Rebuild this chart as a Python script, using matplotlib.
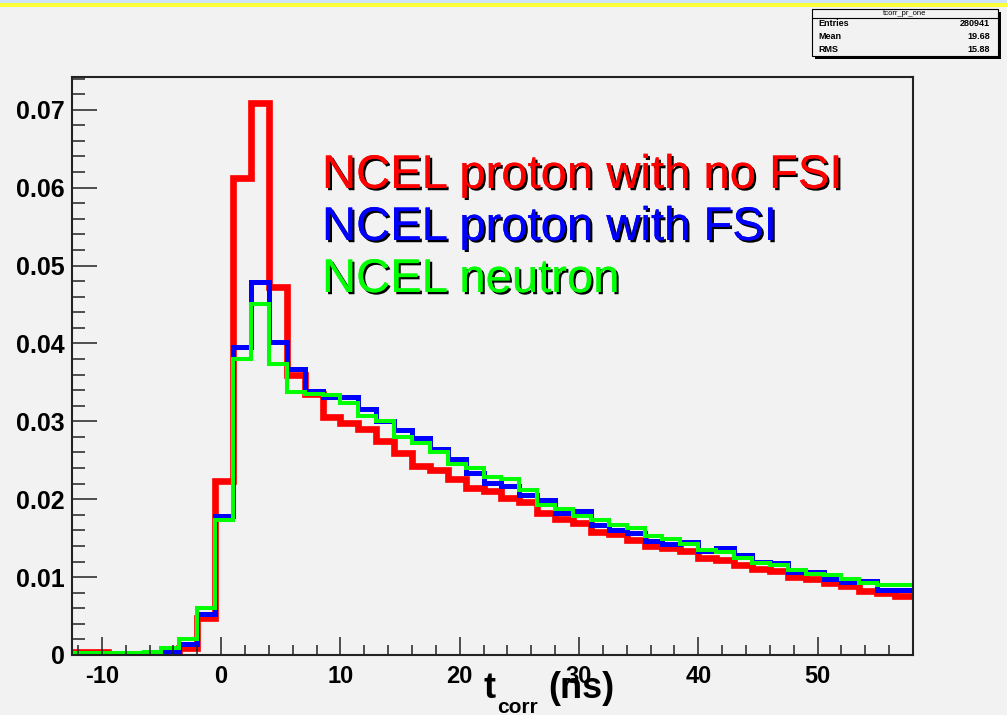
import matplotlib
matplotlib.use('Agg')
import matplotlib.pyplot as plt
import matplotlib.patheffects as pe
from matplotlib.patches import Rectangle
from matplotlib.ticker import MultipleLocator

plt.rcParams['font.family'] = ['Liberation Sans', 'DejaVu Sans']
plt.rcParams['axes.unicode_minus'] = False

# 47 bins of 1.5 ns from -12.5 to 58
edges = [-12.5 + 1.5 * k for k in range(48)]

# NCEL proton with no FSI
red = [0.0004, 0.0004, 0.0000, 0.0000, 0.0000, 0.0001, 0.0009, 0.0047, 0.0224,
       0.0612, 0.0709, 0.0473, 0.0360, 0.0335, 0.0306, 0.0298, 0.0290, 0.0275,
       0.0259, 0.0243, 0.0237, 0.0226, 0.0214, 0.0210, 0.0202, 0.0197, 0.0182,
       0.0174, 0.0169, 0.0158, 0.0155, 0.0147, 0.0140, 0.0137, 0.0133, 0.0125,
       0.0122, 0.0116, 0.0111, 0.0108, 0.0100, 0.0097, 0.0093, 0.0088, 0.0082,
       0.0079, 0.0076]
# NCEL proton with FSI
blue = [0.0001, 0.0001, 0.0003, 0.0003, 0.0003, 0.0004, 0.0014, 0.0053, 0.0178,
        0.0396, 0.0479, 0.0402, 0.0367, 0.0339, 0.0331, 0.0331, 0.0316, 0.0300,
        0.0289, 0.0279, 0.0264, 0.0251, 0.0234, 0.0221, 0.0217, 0.0206, 0.0199,
        0.0182, 0.0185, 0.0167, 0.0161, 0.0157, 0.0146, 0.0143, 0.0145, 0.0133,
        0.0137, 0.0128, 0.0120, 0.0118, 0.0106, 0.0107, 0.0098, 0.0094, 0.0095,
        0.0084, 0.0084]
# NCEL neutron
green = [0.0002, 0.0002, 0.0003, 0.0003, 0.0004, 0.0009, 0.0021, 0.0060, 0.0173,
         0.0380, 0.0451, 0.0373, 0.0338, 0.0335, 0.0334, 0.0323, 0.0307, 0.0301,
         0.0280, 0.0272, 0.0261, 0.0245, 0.0240, 0.0228, 0.0226, 0.0212, 0.0193,
         0.0187, 0.0178, 0.0173, 0.0167, 0.0163, 0.0153, 0.0149, 0.0143, 0.0135,
         0.0132, 0.0125, 0.0118, 0.0115, 0.0109, 0.0104, 0.0103, 0.0098, 0.0092,
         0.0090, 0.0090]

legend_labels = ['NCEL proton with no FSI', 'NCEL proton with FSI', 'NCEL neutron']
stats = [('Entries', '280941'), ('Mean', '19.68'), ('RMS', '15.88')]

W, H = 1007, 715
bg = '#f2f2f2'
fig = plt.figure(figsize=(W / 100, H / 100), dpi=100, facecolor=bg)
ax = fig.add_axes([72 / W, 1 - 655 / H, (913 - 72) / W, (655 - 77) / H])
ax.set_facecolor(bg)

ax.stairs(red, edges, baseline=None, color='#ff0000', lw=4.8)
ax.stairs(blue, edges, baseline=None, color='#0000ff', lw=3.6)
ax.stairs(green, edges, baseline=None, color='#00ff00', lw=2.9)

ax.set_xlim(-12.5, 58)
ax.set_ylim(0, 0.0742)

ax.xaxis.set_major_locator(MultipleLocator(10))
ax.xaxis.set_minor_locator(MultipleLocator(2))
ax.yaxis.set_minor_locator(MultipleLocator(0.002))
ax.set_yticks([0, 0.01, 0.02, 0.03, 0.04, 0.05, 0.06, 0.07])
ax.set_yticklabels(['0', '0.01', '0.02', '0.03', '0.04', '0.05', '0.06', '0.07'])

ax.tick_params(axis='x', which='major', direction='in', length=13, width=1.1,
               pad=7, labelsize=17, color='#222222')
ax.tick_params(axis='x', which='minor', direction='in', length=7, width=1.1, color='#222222')
ax.tick_params(axis='y', which='major', direction='in', length=18, width=1.1,
               pad=5, labelsize=18, color='#222222')
ax.tick_params(axis='y', which='minor', direction='in', length=9, width=1.1, color='#222222')
for lab in ax.get_xticklabels() + ax.get_yticklabels():
    lab.set_fontweight('bold')
for s in ax.spines.values():
    s.set_linewidth(1.5)
    s.set_color('#222222')

# legend-like labels with black shadow
shadow = [pe.withSimplePatchShadow(offset=(1.6, -1.6), shadow_rgbFace='black', alpha=1.0),
          pe.Normal()]
for i, (txt, col) in enumerate(zip(legend_labels, ['#ff0000', '#0000ff', '#00ff00'])):
    fig.text(322 / W, 1 - (188 + 52 * i) / H, txt, color=col, fontsize=34,
             va='baseline', ha='left', path_effects=shadow)

# x axis title
fig.text(483 / W, 1 - 698 / H, 't', fontsize=26, fontweight='bold', va='baseline')
fig.text(497 / W, 1 - 713 / H, 'corr', fontsize=15, fontweight='bold', va='baseline')
fig.text(548 / W, 1 - 698 / H, '(ns)', fontsize=26, fontweight='bold', va='baseline')

# top colour bands
fig.patches.append(Rectangle((0, 1 - 3 / H), 1, 3 / H, transform=fig.transFigure,
                             facecolor='#cfe2f7', edgecolor='none'))
fig.patches.append(Rectangle((0, 1 - 7 / H), 1, 4 / H, transform=fig.transFigure,
                             facecolor='#ffff3a', edgecolor='none'))

# stats box
bx0, bx1, by0, by1 = 812, 998, 9, 56
fig.patches.append(Rectangle(((bx0 + 3) / W, 1 - (by1 + 3) / H), (bx1 - bx0) / W, (by1 - by0) / H,
                             transform=fig.transFigure, facecolor='black', edgecolor='none'))
fig.patches.append(Rectangle((bx0 / W, 1 - by1 / H), (bx1 - bx0) / W, (by1 - by0) / H,
                             transform=fig.transFigure, facecolor=bg, edgecolor='black', lw=0.8))
fig.add_artist(plt.Line2D([bx0 / W, bx1 / W], [1 - 18 / H, 1 - 18 / H], transform=fig.transFigure,
                          color='black', lw=0.8))
fig.text((bx0 + bx1) / 2 / W, 1 - 13.5 / H, 'tcorr_pr_one', fontsize=5.5, ha='center', va='center')
for i, (name, val) in enumerate(stats):
    yy = 1 - (23.7 + 13 * i) / H
    fig.text((bx0 + 6) / W, yy, name, fontsize=6.5, fontweight='bold', va='center', ha='left')
    fig.text(990 / W, yy, val, fontsize=6.5, fontweight='bold', va='center', ha='right')

fig.savefig('out.png', dpi=100, facecolor=bg)
